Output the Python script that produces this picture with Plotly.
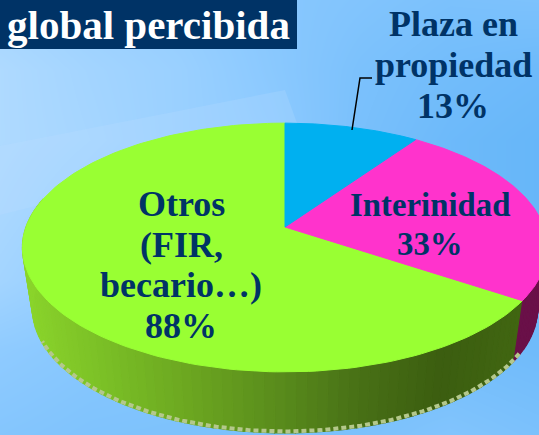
import numpy as np
import plotly.graph_objects as go

# ---- data ----
slice_names = ["Plaza en propiedad", "Interinidad", "Otros (FIR, becario…)"]
slice_values = [13, 33, 88]
slice_colors = ["#00b0f0", "#ff33cc", "#99ff33"]
wall_colors = ["#006f99", "#6a1048", None]
title_text = "global percibida"
label_plaza = ["Plaza en", "propiedad", "13%"]
label_inter = ["Interinidad", "33%"]
label_otros = ["Otros", "(FIR,", "becario…)", "88%"]

NAVY = "#003366"
W, H = 539, 435

# ---- perspective projection of the tilted disc ----
CX, CY = 285.0, 227.0
A, B, K = 259.0, 121.0, 0.165
DROP, SHRINK = 61.0, 0.962


def project(theta_deg, scale_x=1.0, drop=0.0):
    t = np.radians(theta_deg)
    u, v = np.sin(t), np.cos(t)
    w = 1 + K * v
    return CX + scale_x * A * u / w, CY - B * v / w + drop


fig = go.Figure()

# ---- background: soft blue wash ----
bg_x = [0, 90, 180, 270, 360, 450, 539]
bg_y = [0, 70, 140, 210, 280, 350, 435]
bg_z = [
    [0.72, 0.62, 0.55, 0.42, 0.35, 0.28, 0.30],
    [0.85, 0.72, 0.62, 0.45, 0.28, 0.18, 0.12],
    [0.85, 0.75, 0.62, 0.50, 0.25, 0.12, 0.05],
    [0.80, 0.65, 0.50, 0.40, 0.25, 0.12, 0.05],
    [0.72, 0.55, 0.45, 0.35, 0.25, 0.15, 0.08],
    [0.50, 0.42, 0.38, 0.30, 0.25, 0.20, 0.15],
    [0.38, 0.32, 0.30, 0.28, 0.28, 0.35, 0.28],
]
fig.add_trace(go.Heatmap(
    x=bg_x, y=bg_y, z=bg_z, zmin=0, zmax=1, zsmooth="best", showscale=False,
    hoverinfo="skip",
    colorscale=[[0, "#62b4f8"], [0.5, "#8fcbff"], [1, "#bce0ff"]],
))

# pale decorative band behind the pie
fig.add_trace(go.Scatter(
    x=[0, 285, 297, 297, 100, 0], y=[146, 90, 123, 160, 190, 215], mode="lines",
    fill="toself", fillcolor="rgba(190,225,255,0.22)", line=dict(width=0), hoverinfo="skip",
))

# ---- side wall, strip by strip ----
fractions = np.array(slice_values) / sum(slice_values)
edges = np.concatenate([[0], np.cumsum(fractions) * 360])

wall_stop_x = [22, 110, 200, 285, 360, 440, 530]
wall_stop_rgb = [
    (140, 214, 44), (122, 190, 38), (106, 164, 32), (88, 138, 28),
    (72, 112, 22), (60, 94, 16), (66, 104, 18),
]

thetas = np.arange(92, 284.01, 2.0)
for a, b in zip(thetas[:-1], thetas[1:]):
    mid = (a + b) / 2
    ts = np.linspace(a, b, 3)
    xt, yt = project(ts)
    xb, yb = project(ts, SHRINK, DROP)
    xm = (xt.mean() + xb.mean()) / 2
    if mid < edges[2]:
        color = wall_colors[1]
    else:
        rgb = [np.interp(xm, wall_stop_x, [c[i] for c in wall_stop_rgb]) for i in range(3)]
        color = "rgb(%d,%d,%d)" % tuple(rgb)
    fig.add_trace(go.Scatter(
        x=np.concatenate([xt, xb[::-1], xt[:1]]),
        y=np.concatenate([yt, yb[::-1], yt[:1]]),
        mode="lines", fill="toself", fillcolor=color,
        line=dict(width=1.2, color=color), hoverinfo="skip",
    ))

# pale jagged rim along the lower edge of the wall
rim = np.linspace(edges[2] - 3, 245, 160)
xr, yr = project(rim, SHRINK, DROP)
fig.add_trace(go.Scatter(
    x=xr, y=yr - 1.5, mode="lines",
    line=dict(color="#b4c88c", width=4, dash="5px,3px"), hoverinfo="skip",
))

# ---- top face of the pie ----
for i in [2, 1, 0]:
    ts = np.linspace(edges[i], edges[i + 1], 160)
    xs, ys = project(ts)
    fig.add_trace(go.Scatter(
        x=np.concatenate([[CX], xs, [CX]]), y=np.concatenate([[CY], ys, [CY]]),
        mode="lines", fill="toself", fillcolor=slice_colors[i],
        line=dict(width=1, color=slice_colors[i]), hoverinfo="skip", name=slice_names[i],
    ))

# ---- leader line ----
fig.add_trace(go.Scatter(
    x=[352, 360, 372], y=[130, 78, 78], mode="lines",
    line=dict(color="#000000", width=1.5), hoverinfo="skip",
))

# ---- header + labels ----
shapes = [dict(type="rect", xref="x", yref="y", x0=0, x1=297, y0=0, y1=49,
               fillcolor=NAVY, line=dict(width=0), layer="above")]


def label(text, x, y, size, color=NAVY):
    return dict(
        text="<b>%s</b>" % text, x=x, y=y, xref="x", yref="y", showarrow=False,
        align="center", xanchor="center", yanchor="middle",
        font=dict(family="Liberation Serif", size=size, color=color),
    )


annotations = [label(title_text, 148, 25, 41, "#ffffff")]
annotations += [label(t, 453, y, 36) for t, y in zip(label_plaza, [24, 65, 106])]
annotations += [label(t, 430, y, 32.8) for t, y in zip(label_inter, [205, 244])]
annotations += [label(t, 181, y, 36) for t, y in zip(label_otros, [204, 245, 285, 326])]

fig.update_layout(
    width=W, height=H, autosize=False, showlegend=False,
    margin=dict(l=0, r=0, t=0, b=0), paper_bgcolor="#8fcbff", plot_bgcolor="rgba(0,0,0,0)",
    xaxis=dict(range=[0, W], visible=False, fixedrange=True),
    yaxis=dict(range=[H, 0], visible=False, fixedrange=True),
    shapes=shapes, annotations=annotations,
)
fig.write_html(
    "out.html",
    config=dict(displayModeBar=False),
    post_script="document.body.style.margin='0';document.body.style.overflow='hidden';",
)
